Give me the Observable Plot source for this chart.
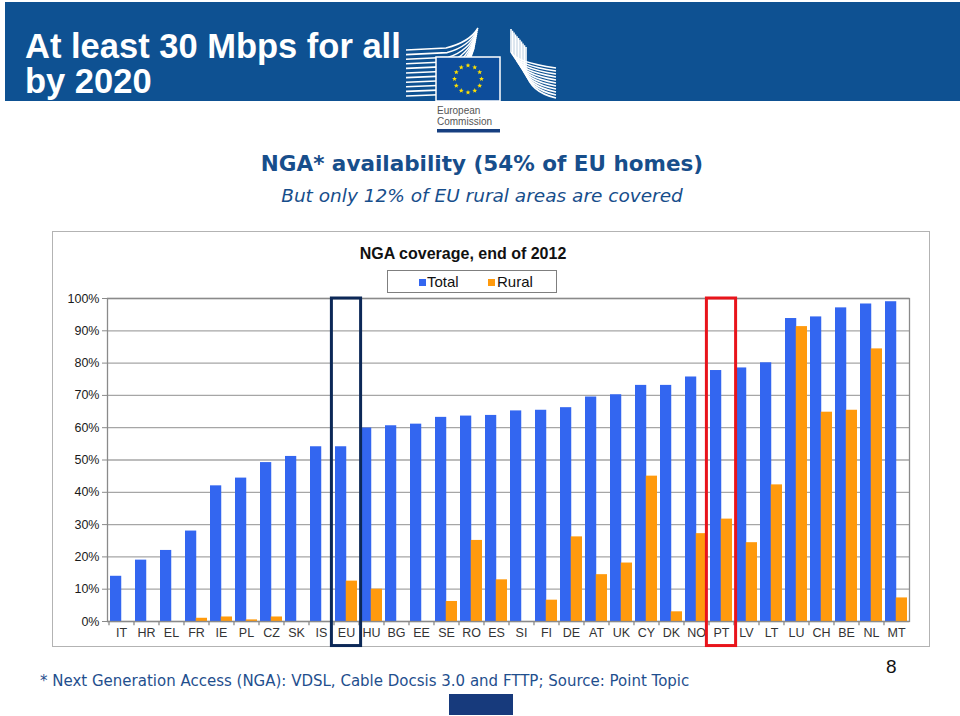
<!DOCTYPE html>
<html>
<head>
<meta charset="utf-8">
<script src="https://cdn.jsdelivr.net/npm/d3@7"></script>
<script src="https://cdn.jsdelivr.net/npm/@observablehq/plot@0.6"></script>
<style>
  html, body { margin: 0; padding: 0; background: #fff; }
  #page { position: relative; width: 960px; height: 716px; overflow: hidden; font-family: "Liberation Sans", Arial, sans-serif; }
  #band { position: absolute; left: 5px; top: 2px; width: 955px; height: 99px; background: #0e5192; }
  #title { position: absolute; left: 25px; top: 29px; color: #fff; font: bold 34.5px/35px "Liberation Sans", Arial, sans-serif; margin: 0; }
  #logo { position: absolute; left: 400px; top: 20px; }
  #sub1 { position: absolute; left: 0; width: 964px; top: 151px; text-align: center; color: #174e8b; font: bold 21.5px "DejaVu Sans", Verdana, sans-serif; }
  #sub2 { position: absolute; left: 0; width: 964px; top: 185px; text-align: center; color: #174e8b; font: oblique 18.5px "DejaVu Sans", Verdana, sans-serif; }
  #box { position: absolute; left: 52px; top: 231px; width: 876px; height: 414px; border: 1px solid #b3b3b3; }
  #ctitle { position: absolute; left: 0; width: 822px; top: 245px; text-align: center; font: bold 16px "Liberation Sans", Arial, sans-serif; color: #111; margin-left: 52px; }
  #legend { position: absolute; left: 387px; top: 270px; width: 168px; height: 21px; border: 1px solid #7f7f7f; font: 15px "Liberation Sans", Arial, sans-serif; color: #111; }
  #legend span.sw { position: absolute; top: 8px; width: 7px; height: 7px; }
  #legend span.lb { position: absolute; top: 2px; }
  #chart { position: absolute; left: 53px; top: 288px; }
  #chart svg { overflow: visible; }
  #foot { position: absolute; left: 40px; top: 672px; color: #1f4f8e; font: 15px "DejaVu Sans", Verdana, sans-serif; white-space: nowrap; }
  #pnum { position: absolute; left: 886px; top: 656px; font: 19px "Liberation Sans", Arial, sans-serif; color: #111; }
  #navy { position: absolute; left: 449px; top: 694px; width: 64px; height: 21px; background: #173a7c; }
</style>
</head>
<body>
<div id="page">
  <div id="band"></div>
  <div id="title">At least 30 Mbps for all<br>by 2020</div>
  <svg id="logo" width="160" height="116" viewBox="400 20 160 116"></svg>
  <div id="sub1">NGA* availability (54% of EU homes)</div>
  <div id="sub2">But only 12% of EU rural areas are covered</div>
  <div id="box"></div>
  <div id="ctitle">NGA coverage, end of 2012</div>
  <div id="legend"></div>
  <div id="chart"></div>
  <div id="foot">* Next Generation Access (NGA): VDSL, Cable Docsis 3.0 and FTTP; Source: Point Topic</div>
  <div id="pnum">8</div>
  <div id="navy"></div>
</div>
<script>
// ---- data ----
const countries = ["IT","HR","EL","FR","IE","PL","CZ","SK","IS","EU","HU","BG","EE","SE","RO","ES","SI","FI","DE","AT","UK","CY","DK","NO","PT","LV","LT","LU","CH","BE","NL","MT"];
const total = [14, 19, 22, 28, 42, 44.4, 49.2, 51.1, 54.1, 54.1, 59.9, 60.6, 61.1, 63.2, 63.6, 63.8, 65.2, 65.4, 66.2, 69.5, 70.2, 73.1, 73.1, 75.7, 77.7, 78.5, 80.1, 93.8, 94.3, 97.1, 98.3, 99.0];
const rural = [null, null, null, 1.0, 1.4, 0.5, 1.4, null, null, 12.5, 10, null, null, 6.2, 25.1, 12.9, null, 6.6, 26.2, 14.5, 18.1, 45.0, 3.0, 27.2, 31.7, 24.4, 42.3, 91.3, 64.8, 65.4, 84.4, 7.3];
const seriesNames = ["Total", "Rural"];
const seriesColors = ["#3366f0", "#ff9a0d"];
const yTicks = [0, 10, 20, 30, 40, 50, 60, 70, 80, 90, 100];
const highlights = [{country: "EU", color: "#0c2857"}, {country: "PT", color: "#e8141b"}];

const rows = countries.map((c, i) => ({country: c, total: total[i], rural: rural[i]}));

// ---- legend (HTML) ----
const legend = document.getElementById("legend");
legend.innerHTML =
  `<span class="sw" style="left:31px;background:${seriesColors[0]}"></span><span class="lb" style="left:39px">${seriesNames[0]}</span>` +
  `<span class="sw" style="left:100px;background:${seriesColors[1]}"></span><span class="lb" style="left:109px">${seriesNames[1]}</span>`;

// ---- chart ----
const W = 876, H = 362, mL = 54, mR = 20, mT = 10, mB = 29;
const pIn = 0.14, pOut = 0.1;
const step = (W - mL - mR) / (countries.length - pIn + 2 * pOut);
const half = step * (1 - pIn) / 2;

const chart = Plot.plot({
  width: W, height: H,
  marginLeft: mL, marginRight: mR, marginTop: mT, marginBottom: mB,
  style: {fontFamily: "'Liberation Sans', Arial, sans-serif", fontSize: "12px", color: "#222", background: "transparent"},
  x: {domain: countries, paddingInner: pIn, paddingOuter: pOut, label: null},
  y: {domain: [0, 100], label: null},
  marks: [
    Plot.gridY(yTicks, {stroke: "#a6a6a6", strokeOpacity: 1, strokeWidth: 1.3}),
    Plot.barY(rows, {x: "country", y: "total", fill: seriesColors[0], insetRight: half}),
    Plot.barY(rows.filter(d => d.rural != null), {x: "country", y: "rural", fill: seriesColors[1], insetLeft: half}),
    Plot.frame({stroke: "#8a8a8a", strokeWidth: 1.3}),
    Plot.ruleX(countries, {x: d => d, dx: -step / 2, y1: () => 0, y2: () => -1.3, stroke: "#8a8a8a", strokeWidth: 1.3}),
    Plot.axisY(yTicks, {tickFormat: d => d + "%", tickSize: 5, tickPadding: 3, stroke: "#8a8a8a", fill: "#1a1a1a", fontSize: 12.5}),
    Plot.axisX({tickSize: 0, tickPadding: 7, fill: "#333", fontSize: 12.5}),
    ...highlights.map(h => Plot.barY([h.country], {x: d => d, y1: () => -7.6, y2: () => 100, fill: "none", stroke: h.color, strokeWidth: 3, insetLeft: -3.6, insetRight: -3.6}))
  ]
});
document.getElementById("chart").appendChild(chart);

// ---- EC logo (decoration) ----
const ns = "http://www.w3.org/2000/svg";
const logo = document.getElementById("logo");
function el(tag, attrs) { const e = document.createElementNS(ns, tag); for (const k in attrs) e.setAttribute(k, attrs[k]); logo.appendChild(e); return e; }
// left building lines
for (let i = 0; i < 11; i++) {
  const y = 50 + i * 4.6;
  const x2 = 446 + i * 1.2;
  el("path", {d: `M406,${y} L${x2},${y - 2} Q${470 - i},${y - 8} ${478 - i * 0.4},${28 + i * 2}`, fill: "none", stroke: "#fff", "stroke-width": 1.6});
}
// right building lines
for (let i = 0; i < 11; i++) {
  const x = 511 + i * 1.5;
  el("path", {d: `M${x},${29 + i * 1.8} L${x},${52 + i * 2} Q${x + 4},${62 + i * 3} 556,${68 + i * 3}`, fill: "none", stroke: "#fff", "stroke-width": 1.6});
}
// flag
el("rect", {x: 436, y: 57, width: 64, height: 44, fill: "#0d4d9b", stroke: "#fff", "stroke-width": 1.5});
for (let k = 0; k < 12; k++) {
  const a = k * Math.PI / 6;
  const cx = 468 + 13.5 * Math.sin(a), cy = 79 - 13.5 * Math.cos(a);
  let d = "";
  for (let j = 0; j < 10; j++) {
    const r = j % 2 ? 1.1 : 2.6, b = j * Math.PI / 5;
    d += (j ? "L" : "M") + (cx + r * Math.sin(b)).toFixed(2) + "," + (cy - r * Math.cos(b)).toFixed(2);
  }
  el("path", {d: d + "Z", fill: "#ffe100"});
}
const t1 = el("text", {x: 437, y: 114, "font-family": "'Liberation Sans Narrow','Liberation Sans',Arial", "font-size": 10, fill: "#555"}); t1.textContent = "European";
const t2 = el("text", {x: 437, y: 125, "font-family": "'Liberation Sans Narrow','Liberation Sans',Arial", "font-size": 10, fill: "#555"}); t2.textContent = "Commission";
el("rect", {x: 437, y: 129, width: 63, height: 3.5, fill: "#163f80"});
</script>
</body>
</html>
